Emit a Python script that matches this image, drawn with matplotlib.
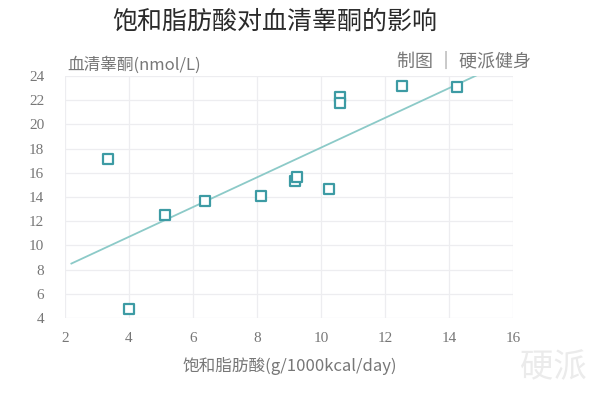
import matplotlib
matplotlib.use("Agg")
import matplotlib.pyplot as plt

plt.rcParams['font.family'] = ['Noto Sans CJK SC', 'DejaVu Sans']

# Data
sfa = [3.33, 4.0, 5.12, 6.37, 8.12, 9.2, 9.25, 10.25, 10.6, 10.6, 12.53, 14.24]
testosterone = [17.15, 4.75, 12.55, 13.7, 14.05, 15.35, 15.65, 14.65, 22.3, 21.8, 23.2, 23.05]
trend_x = [2.2, 14.9]
trend_y = [8.5, 24.1]
xticks = [2, 4, 6, 8, 10, 12, 14, 16]
yticks = [4, 6, 8, 10, 12, 14, 16, 18, 20, 22, 24]

title = "饱和脂肪酸对血清睾酮的影响"
ylabel = "血清睾酮(nmol/L)"
xlabel = "饱和脂肪酸(g/1000kcal/day)"
credit = "制图 ｜ 硬派健身"
watermark = "硬派"

fig = plt.figure(figsize=(6, 3.96), dpi=100)
ax = fig.add_axes([65/600, 1-318/396, (513-65)/600, (318-76)/396])

ax.plot(trend_x, trend_y, color='#8ccac8', lw=1.3, zorder=2)
ax.scatter(sfa, testosterone, marker='s', s=55, facecolors='white',
           edgecolors='#3d9ba4', linewidths=1.6, zorder=3)

ax.set_xlim(2, 16)
ax.set_ylim(4, 24)
ax.set_xticks(xticks)
ax.set_yticks(yticks)
ax.grid(True, color='#ededf0', lw=0.9)
ax.set_axisbelow(True)
for s in ax.spines.values():
    s.set_visible(False)
ax.tick_params(length=0, labelsize=11, labelcolor='#777777')
ax.tick_params(axis='y', pad=15)
ax.tick_params(axis='x', pad=10)
for lab in ax.get_xticklabels() + ax.get_yticklabels():
    lab.set_family('Liberation Serif')

fig.text(275/600, 1-22/396, title, ha='center', va='center', fontsize=18, color='#2a2a2a')
fig.text(67/600, 1-65/396, ylabel, ha='left', va='center', fontsize=12, color='#777777')
fig.text(531/600, 1-62/396, credit, ha='right', va='center', fontsize=13, color='#777777')
fig.text(290/600, 1-366/396, xlabel, ha='center', va='center', fontsize=12, color='#777777')
fig.text(553/600, 1-368/396, watermark, ha='center', va='center', fontsize=24,
         color='#ebebeb', style='italic')

fig.savefig('out.png', dpi=100)
